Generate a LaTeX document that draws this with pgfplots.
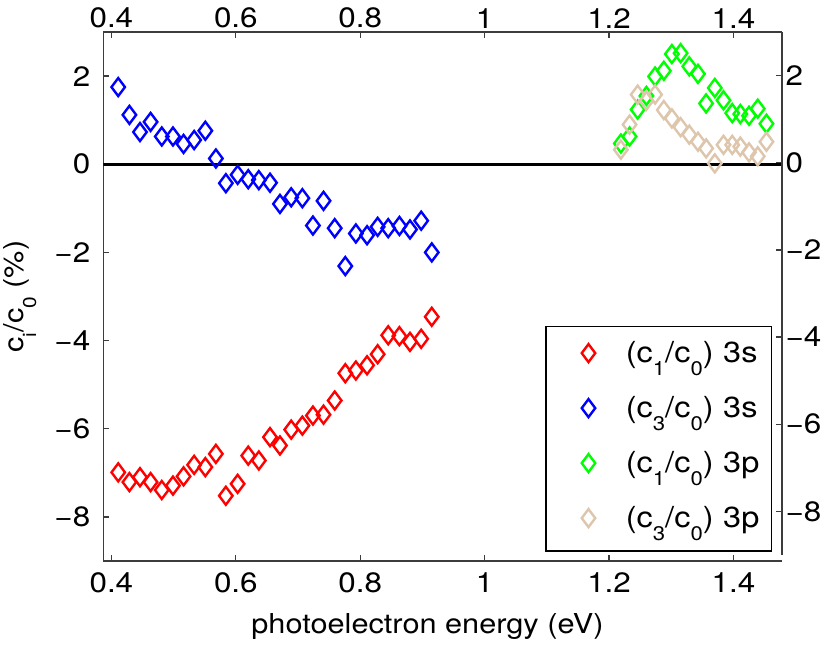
\documentclass[border=0pt]{standalone}
\usepackage{fontspec}
\setmainfont{TeX Gyre Heros}[FakeStretch=1.12]
\usepackage{graphicx}
\usepackage{pgfplots}
\pgfplotsset{compat=1.18}
\definecolor{tanc}{RGB}{222,198,172}
\definecolor{axgray}{RGB}{60,60,60}
\newcommand\sub[1]{\raisebox{-0.46em}{\scalebox{0.68}{#1}}}

\pgfplotstableread{
x y
0.411 1.75
0.429 1.12
0.446 0.73
0.463 0.96
0.481 0.63
0.499 0.63
0.516 0.46
0.533 0.55
0.551 0.76
0.568 0.13
0.584 -0.43
0.603 -0.24
0.620 -0.34
0.637 -0.36
0.655 -0.42
0.671 -0.90
0.689 -0.75
0.707 -0.77
0.724 -1.39
0.741 -0.83
0.759 -1.45
0.776 -2.31
0.793 -1.57
0.811 -1.61
0.828 -1.42
0.845 -1.45
0.863 -1.40
0.880 -1.48
0.898 -1.28
0.915 -2.00
}\blueS

\pgfplotstableread{
x y
0.411 -6.99
0.429 -7.21
0.446 -7.10
0.463 -7.21
0.481 -7.39
0.499 -7.29
0.516 -7.08
0.533 -6.82
0.551 -6.87
0.568 -6.57
0.584 -7.52
0.603 -7.25
0.620 -6.61
0.637 -6.72
0.655 -6.19
0.671 -6.38
0.689 -6.02
0.707 -5.93
0.724 -5.70
0.741 -5.68
0.759 -5.36
0.776 -4.74
0.793 -4.68
0.811 -4.56
0.828 -4.31
0.845 -3.88
0.863 -3.90
0.880 -4.03
0.898 -3.96
0.915 -3.46
}\redS

\pgfplotstableread{
x y
1.219 0.47
1.233 0.63
1.246 1.24
1.260 1.55
1.274 1.99
1.288 2.12
1.301 2.50
1.315 2.52
1.329 2.22
1.343 2.05
1.356 1.38
1.370 1.73
1.384 1.45
1.398 1.16
1.411 1.14
1.425 1.10
1.439 1.26
1.453 0.92
}\greenP

\pgfplotstableread{
x y
1.219 0.33
1.233 0.90
1.246 1.58
1.260 1.44
1.274 1.58
1.288 1.23
1.301 1.04
1.315 0.84
1.329 0.67
1.343 0.51
1.356 0.36
1.370 0.02
1.384 0.44
1.398 0.44
1.411 0.40
1.425 0.27
1.439 0.18
1.453 0.51
}\tanP

\begin{document}
\begin{tikzpicture}
\useasboundingbox (-51.65pt,-42.5pt) rectangle (363.35pt,280.5pt);
\pgfplotsset{
  common/.style={
    scale only axis, width=339.35pt,
    xmin=0.387, xmax=1.478, ymin=-9, ymax=3,
    axis line style={-, line width=0.6pt, color=axgray},
    tick align=inside, major tick length=3pt,
    tick style={axgray, line width=0.6pt},
    xtick={0.4,0.6,0.8,1,1.2,1.4},
    xticklabels={0.4,0.6,0.8,1,1.2,1.4},
    ytick={-8,-6,-4,-2,0,2},
    yticklabels={−8,−6,−4,−2,0,2},
    tick label style={font=\fontsize{14}{16}\selectfont},
  },
  dmark/.style={only marks, #1, mark=diamond, mark size=4.5pt, mark options={solid, line width=1.2pt}},
}
\begin{axis}[
  common,
  at={(0,0)}, anchor=south west, height=264.5pt,
  axis x line*=bottom, axis y line*=left,
  xticklabel style={yshift=-2.3pt},
  yticklabel style={xshift=-3pt},
  xlabel={photoelectron energy (eV)},
  ylabel={c\sub{i}/c\sub{0} (\%)},
  label style={font=\fontsize{13.7}{16}\selectfont},
  xlabel style={at={(axis description cs:0.4777,-0.138)}, anchor=base},
  ylabel style={at={(axis description cs:-0.1227,0.5)}, anchor=center},
  legend style={at={(0.9857,0.4448)}, anchor=north east, draw=black,
    line width=0.8pt, inner xsep=1.3pt, inner ysep=7.8pt, row sep=13.5pt,
    column sep=2pt, font=\fontsize{14.5}{16}\selectfont,
    nodes={inner sep=0pt, text height=10pt, text depth=4pt, text width=71.5pt, align=left},
    cells={anchor=west}},
  legend image code/.code={
    \path[draw=none, fill=none] (0pt,-5pt) rectangle (36.7pt,5pt);
    \draw[#1] plot coordinates {(20pt,1.5pt)};
  },
]
\addplot[black, line width=1.5pt, forget plot] coordinates {(0.387,0) (1.478,0)};
\addplot[dmark=red] table {\redS};
\addlegendentry{(c\sub{1}/c\sub{0}) 3s}
\addplot[dmark=blue] table {\blueS};
\addlegendentry{(c\sub{3}/c\sub{0}) 3s}
\addplot[dmark=green] table {\greenP};
\addlegendentry{(c\sub{1}/c\sub{0}) 3p}
\addplot[dmark=tanc] table {\tanP};
\addlegendentry{(c\sub{3}/c\sub{0}) 3p}
\end{axis}
\begin{axis}[
  common,
  at={(0,264.5pt)}, anchor=north west, height=261.5pt,
  axis x line*=top, axis y line*=right,
  xticklabel style={yshift=-1.7pt},
  yticklabel style={xshift=-1.7pt},
]
\addplot[draw=none, forget plot] coordinates {(1,0)};
\end{axis}
\end{tikzpicture}
\end{document}
